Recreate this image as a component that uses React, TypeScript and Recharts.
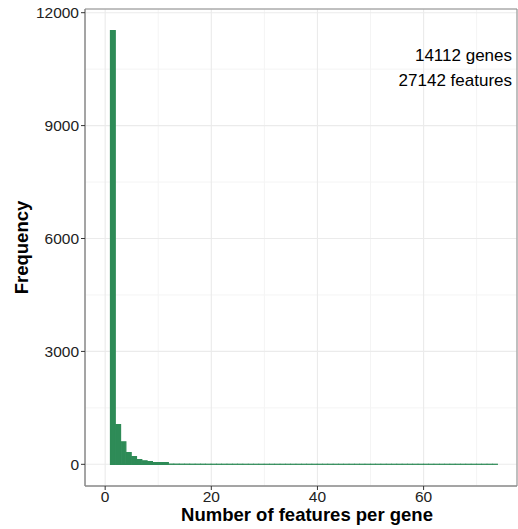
import React from "react";
import {
  ComposedChart,
  Bar,
  XAxis,
  YAxis,
  CartesianGrid,
  ReferenceArea,
} from "recharts";

// Histogram of number of features per gene (bin width 1, first bin starts at 1)
const FIRST_BIN = 1;
const BIN_WIDTH = 1;
const counts: number[] = [
  11522, 1056, 597, 314, 208, 128, 93, 70, 45, 45, 45,
  6, 5, 4, 4, 3, 3, 3, 2, 2, 2,
  2, 2, 2, 2, 1, 1, 1, 1, 1, 1,
  1, 1, 1, 1, 1, 1, 1, 1, 1, 1,
  1, 1, 1, 1, 1, 1, 1, 1, 1, 1,
  1, 1, 1, 1, 1, 1, 1, 1, 1, 1,
  1, 1, 1, 1, 1, 1, 1, 1, 1, 1,
  1, 1,
];

const xTicks = [0, 20, 40, 60];
const xMinor = [10, 30, 50, 70];
const yTicks = [0, 3000, 6000, 9000, 12000];
const yMinor = [1500, 4500, 7500, 10500];
const xDomain: [number, number] = [-3.8, 77.6];
const yDomain: [number, number] = [-576, 12098];

const annotations = ["14112 genes", "27142 features"];
const xTitle = "Number of features per gene";
const yTitle = "Frequency";

const data = counts.map((c, i) => ({
  x: FIRST_BIN + i * BIN_WIDTH + BIN_WIDTH / 2,
  count: c,
}));

const W = 518;
const H = 529;
const margin = { top: 9, right: 1, bottom: 0, left: 0 };
const Y_AXIS_W = 85;
const X_AXIS_H = 43;
const plotW = W - margin.left - margin.right - Y_AXIS_W;
const barPx = (plotW / (xDomain[1] - xDomain[0])) * BIN_WIDTH;

const FONT = "'Liberation Sans', Arial, Helvetica, sans-serif";
const GREEN = "#2e8b57";

export default function App() {
  return (
    <div style={{ position: "absolute", left: 0, top: 0, width: W, height: H, background: "#fff" }}>
      <ComposedChart width={W} height={H} data={data} margin={margin} barCategoryGap={0} barGap={0}>
        <CartesianGrid
          horizontalValues={yMinor}
          verticalValues={xMinor}
          stroke="#f4f4f4"
          strokeWidth={1}
          strokeDasharray=""
        />
        <CartesianGrid stroke="#ebebeb" strokeWidth={1.1} strokeDasharray="" />
        <XAxis
          dataKey="x"
          type="number"
          height={X_AXIS_H}
          domain={xDomain}
          ticks={xTicks}
          allowDataOverflow
          interval={0}
          tickSize={4}
          tickMargin={1}
          axisLine={{ stroke: "#8a8a8a" }}
          tickLine={{ stroke: "#333" }}
          tick={{ fontFamily: FONT, fontSize: 15.5, fill: "#222" }}
          label={{
            content: (p: any) => {
              const vb = p.viewBox || {};
              return (
                <text
                  x={vb.x + vb.width / 2 + 6}
                  y={521}
                  textAnchor="middle"
                  fontFamily={FONT}
                  fontWeight="bold"
                  fontSize={18.5}
                  fill="#000"
                >
                  {xTitle}
                </text>
              );
            },
          }}
        />
        <YAxis
          type="number"
          width={Y_AXIS_W}
          domain={yDomain}
          ticks={yTicks}
          allowDataOverflow
          interval={0}
          tickSize={4}
          tickMargin={2}
          axisLine={{ stroke: "#8a8a8a" }}
          tickLine={{ stroke: "#333" }}
          tick={{ fontFamily: FONT, fontSize: 15.5, fill: "#222" }}
          label={{
            content: (p: any) => {
              const vb = p.viewBox || {};
              const cy = vb.y + vb.height / 2;
              return (
                <text
                  x={28}
                  y={cy}
                  textAnchor="middle"
                  transform={`rotate(-90 28 ${cy})`}
                  fontFamily={FONT}
                  fontWeight="bold"
                  fontSize={18.5}
                  fill="#000"
                >
                  {yTitle}
                </text>
              );
            },
          }}
        />
        <Bar
          dataKey="count"
          fill={GREEN}
          stroke={GREEN}
          strokeWidth={1.2}
          barSize={barPx}
          isAnimationActive={false}
        />
        <ReferenceArea
          x1={xDomain[0]}
          x2={xDomain[1]}
          y1={yDomain[0]}
          y2={yDomain[1]}
          fill="none"
          stroke="#8a8a8a"
          strokeWidth={1}
          ifOverflow="visible"
        />
      </ComposedChart>
      <svg
        width={W}
        height={H}
        style={{ position: "absolute", left: 0, top: 0, pointerEvents: "none" }}
      >
        {annotations.map((t, i) => (
          <text
            key={t}
            x={512}
            y={61 + i * 25}
            textAnchor="end"
            fontFamily={FONT}
            fontSize={17}
            fill="#000"
          >
            {t}
          </text>
        ))}
      </svg>
    </div>
  );
}
